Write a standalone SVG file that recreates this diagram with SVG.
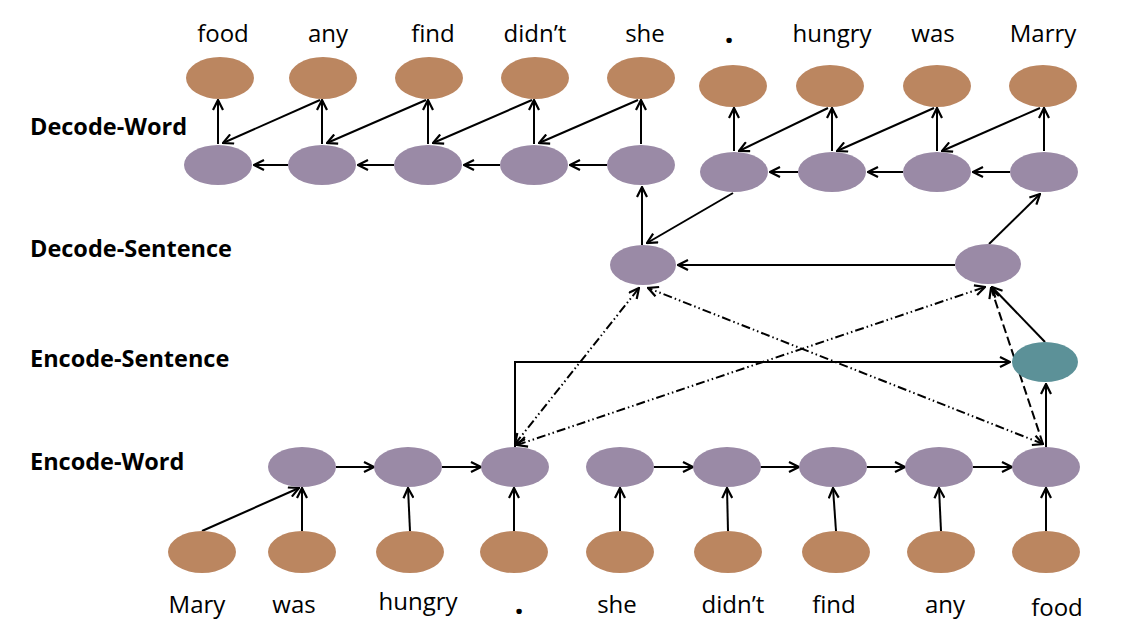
<svg xmlns="http://www.w3.org/2000/svg" width="1136" height="644" viewBox="0 0 1136 644">
<defs>
<marker id="ah" viewBox="0 0 12 12" refX="11" refY="6" markerWidth="12" markerHeight="12" markerUnits="userSpaceOnUse" orient="auto-start-reverse">
<path d="M1,1 L11,6 L1,11" fill="none" stroke="#000" stroke-width="2.2"/>
</marker>
<filter id="soft" x="-10%" y="-10%" width="120%" height="120%"><feGaussianBlur stdDeviation="0.7"/></filter>
</defs>
<style>
.p{fill:#9a8aa6;filter:url(#soft)}
.b{fill:#bb8661;filter:url(#soft)}
.t{fill:#5b9198;filter:url(#soft)}
.w{font-family:"Open Sans","Liberation Sans",sans-serif;font-size:24px;fill:#000;text-anchor:middle}
.dot{font-size:32px;font-weight:bold}
.lab{font-family:"Open Sans","Liberation Sans",sans-serif;font-size:23.5px;font-weight:bold;fill:#000}
.c{fill:none;stroke:#000;stroke-width:2}
.a{marker-end:url(#ah)}
.ab{marker-end:url(#ah);marker-start:url(#ah)}
.dd{stroke-dasharray:9 3 1.5 3 1.5 3}
.da{stroke-dasharray:9 4}
</style>

<g id="labels">
<text class="lab" x="30" y="135">Decode-Word</text>
<text class="lab" x="30" y="257">Decode-Sentence</text>
<text class="lab" x="30" y="367">Encode-Sentence</text>
<text class="lab" x="30" y="470">Encode-Word</text>
</g>

<g id="connectors">
<line class="c a" x1="218" y1="144" x2="218" y2="100"/>
<line class="c a" x1="322" y1="144" x2="322" y2="100"/>
<line class="c a" x1="428" y1="144" x2="428" y2="100"/>
<line class="c a" x1="534" y1="144" x2="534" y2="100"/>
<line class="c a" x1="641" y1="144" x2="641" y2="100"/>
<line class="c a" x1="320" y1="100" x2="223" y2="143"/>
<line class="c a" x1="426" y1="100" x2="327" y2="143"/>
<line class="c a" x1="532" y1="100" x2="433" y2="143"/>
<line class="c a" x1="638" y1="100" x2="539" y2="143"/>
<line class="c a" x1="288" y1="165" x2="254" y2="165"/>
<line class="c a" x1="394" y1="165" x2="358" y2="165"/>
<line class="c a" x1="500" y1="165" x2="464" y2="165"/>
<line class="c a" x1="607" y1="165" x2="570" y2="165"/>
<line class="c a" x1="734" y1="151" x2="734" y2="108"/>
<line class="c a" x1="832" y1="151" x2="832" y2="108"/>
<line class="c a" x1="937" y1="151" x2="937" y2="108"/>
<line class="c a" x1="1044" y1="151" x2="1044" y2="108"/>
<line class="c a" x1="828" y1="108" x2="739" y2="151"/>
<line class="c a" x1="934" y1="108" x2="837" y2="151"/>
<line class="c a" x1="1040" y1="108" x2="942" y2="151"/>
<line class="c a" x1="798" y1="172" x2="770" y2="172"/>
<line class="c a" x1="903" y1="172" x2="868" y2="172"/>
<line class="c a" x1="1010" y1="172" x2="973" y2="172"/>
<line class="c a" x1="642" y1="245" x2="642" y2="187"/>
<line class="c a" x1="733" y1="193" x2="647" y2="243"/>
<line class="c a" x1="989" y1="244" x2="1040" y2="194"/>
<line class="c a" x1="955" y1="265" x2="678" y2="265"/>
<line class="c a" x1="1045" y1="342" x2="992" y2="287"/>
<line class="c a" x1="1046" y1="447" x2="1046" y2="384"/>
<polyline class="c a" points="515,447 515,362 1010,362"/>
<line class="c ab dd" x1="515" y1="444" x2="639" y2="288"/>
<line class="c ab dd" x1="517" y1="445" x2="985" y2="287"/>
<line class="c ab dd" x1="1043" y1="444" x2="648" y2="288"/>
<line class="c a da" x1="1043" y1="444" x2="991" y2="288"/>
<line class="c a" x1="336" y1="467" x2="374" y2="467"/>
<line class="c a" x1="442" y1="467" x2="481" y2="467"/>
<line class="c a" x1="654" y1="467" x2="693" y2="467"/>
<line class="c a" x1="760" y1="467" x2="799" y2="467"/>
<line class="c a" x1="867" y1="467" x2="905" y2="467"/>
<line class="c a" x1="973" y1="467" x2="1012" y2="467"/>
<line class="c a" x1="202" y1="531" x2="299" y2="488"/>
<line class="c a" x1="302" y1="531" x2="302" y2="488"/>
<line class="c a" x1="410" y1="531" x2="408" y2="488"/>
<line class="c a" x1="514" y1="531" x2="514" y2="488"/>
<line class="c a" x1="620" y1="531" x2="620" y2="488"/>
<line class="c a" x1="728" y1="531" x2="727" y2="488"/>
<line class="c a" x1="836" y1="531" x2="833" y2="488"/>
<line class="c a" x1="941" y1="531" x2="939" y2="488"/>
<line class="c a" x1="1046" y1="531" x2="1046" y2="488"/>
</g>

<g id="decode-word-outputs">
<g id="dout-food"><ellipse class="b" cx="220" cy="78" rx="34" ry="21"/><text class="w" x="223" y="42">food</text></g>
<g id="dout-any"><ellipse class="b" cx="323" cy="78" rx="34" ry="21"/><text class="w" x="328" y="42">any</text></g>
<g id="dout-find"><ellipse class="b" cx="429" cy="78" rx="34" ry="21"/><text class="w" x="433" y="42">find</text></g>
<g id="dout-didnt"><ellipse class="b" cx="535" cy="78" rx="34" ry="21"/><text class="w" x="535" y="42">didn’t</text></g>
<g id="dout-she"><ellipse class="b" cx="641" cy="78" rx="34" ry="21"/><text class="w" x="645" y="42">she</text></g>
<g id="dout-dot"><ellipse class="b" cx="733" cy="86" rx="34" ry="21"/><text class="w dot" x="729" y="43">.</text></g>
<g id="dout-hungry"><ellipse class="b" cx="830" cy="86" rx="34" ry="21"/><text class="w" x="832" y="42">hungry</text></g>
<g id="dout-was"><ellipse class="b" cx="937" cy="86" rx="34" ry="21"/><text class="w" x="933" y="42">was</text></g>
<g id="dout-marry"><ellipse class="b" cx="1043" cy="86" rx="34" ry="21"/><text class="w" x="1043" y="42">Marry</text></g>
</g>

<g id="decode-word-states">
<g id="dw1"><ellipse class="p" cx="218" cy="165" rx="34" ry="20"/></g>
<g id="dw2"><ellipse class="p" cx="322" cy="165" rx="34" ry="20"/></g>
<g id="dw3"><ellipse class="p" cx="428" cy="165" rx="34" ry="20"/></g>
<g id="dw4"><ellipse class="p" cx="534" cy="165" rx="34" ry="20"/></g>
<g id="dw5"><ellipse class="p" cx="641" cy="165" rx="34" ry="20"/></g>
<g id="dw6"><ellipse class="p" cx="734" cy="172" rx="34" ry="20"/></g>
<g id="dw7"><ellipse class="p" cx="832" cy="172" rx="34" ry="20"/></g>
<g id="dw8"><ellipse class="p" cx="937" cy="172" rx="34" ry="20"/></g>
<g id="dw9"><ellipse class="p" cx="1044" cy="172" rx="34" ry="20"/></g>
</g>

<g id="decode-sentence">
<g id="ds1"><ellipse class="p" cx="643" cy="265" rx="33" ry="20"/></g>
<g id="ds2"><ellipse class="p" cx="988" cy="264" rx="33" ry="20"/></g>
</g>

<g id="encode-sentence">
<g id="es1"><ellipse class="t" cx="1045" cy="362" rx="33" ry="20"/></g>
</g>

<g id="encode-word-states">
<g id="ew1"><ellipse class="p" cx="302" cy="467" rx="34" ry="20"/></g>
<g id="ew2"><ellipse class="p" cx="408" cy="467" rx="34" ry="20"/></g>
<g id="ew3"><ellipse class="p" cx="515" cy="467" rx="34" ry="20"/></g>
<g id="ew4"><ellipse class="p" cx="620" cy="467" rx="34" ry="20"/></g>
<g id="ew5"><ellipse class="p" cx="727" cy="467" rx="34" ry="20"/></g>
<g id="ew6"><ellipse class="p" cx="833" cy="467" rx="34" ry="20"/></g>
<g id="ew7"><ellipse class="p" cx="939" cy="467" rx="34" ry="20"/></g>
<g id="ew8"><ellipse class="p" cx="1046" cy="467" rx="34" ry="20"/></g>
</g>

<g id="encode-word-inputs">
<g id="in-mary"><ellipse class="b" cx="202" cy="552" rx="34" ry="21"/><text class="w" x="197" y="613">Mary</text></g>
<g id="in-was"><ellipse class="b" cx="302" cy="552" rx="34" ry="21"/><text class="w" x="294" y="613">was</text></g>
<g id="in-hungry"><ellipse class="b" cx="410" cy="552" rx="34" ry="21"/><text class="w" x="418" y="610">hungry</text></g>
<g id="in-dot"><ellipse class="b" cx="514" cy="552" rx="34" ry="21"/><text class="w dot" x="519" y="614">.</text></g>
<g id="in-she"><ellipse class="b" cx="620" cy="552" rx="34" ry="21"/><text class="w" x="617" y="613">she</text></g>
<g id="in-didnt"><ellipse class="b" cx="728" cy="552" rx="34" ry="21"/><text class="w" x="733" y="613">didn’t</text></g>
<g id="in-find"><ellipse class="b" cx="836" cy="552" rx="34" ry="21"/><text class="w" x="834" y="613">find</text></g>
<g id="in-any"><ellipse class="b" cx="941" cy="552" rx="34" ry="21"/><text class="w" x="945" y="613">any</text></g>
<g id="in-food"><ellipse class="b" cx="1046" cy="552" rx="34" ry="21"/><text class="w" x="1057" y="616">food</text></g>
</g>
</svg>
